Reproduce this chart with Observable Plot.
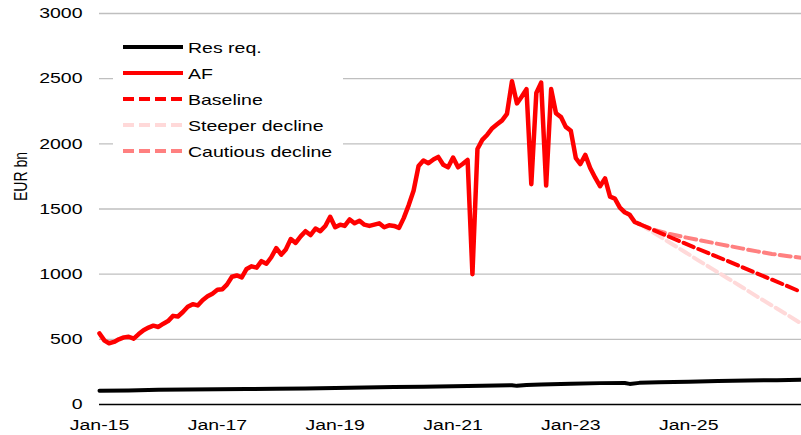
<!DOCTYPE html>
<html>
<head>
<meta charset="utf-8">
<script src="https://cdn.jsdelivr.net/npm/d3@7"></script>
<script src="https://cdn.jsdelivr.net/npm/@observablehq/plot@0.6"></script>
<style>
  html, body { margin: 0; padding: 0; background: #fff; }
  #wrap { position: relative; width: 801px; height: 435px; font-family: "Liberation Sans", Arial, sans-serif; }
  #legend { position: absolute; left: 113px; top: 30px; width: 230px; height: 135px; background: #fff; padding-top: 4px; box-sizing: border-box; }
  .item { height: 26px; display: flex; align-items: center; }
  .item svg { margin-left: 10px; flex: none; }
  .item span { margin-left: 5px; font-size: 15px; color: #000; display: inline-block; transform: scaleX(1.3); transform-origin: left center; white-space: nowrap; }
</style>
</head>
<body>
<div id="wrap"></div>
<script>
// ---- data ----
const afStart = "2015-01";
const afValues = [545,490,470,480,500,515,520,505,540,570,
  590,605,595,620,640,680,675,710,750,770,
  760,800,830,850,880,885,920,980,990,975,
  1040,1060,1050,1100,1080,1130,1200,1150,1190,1270,
  1240,1290,1330,1300,1350,1330,1370,1440,1360,1380,
  1370,1420,1390,1410,1380,1370,1380,1390,1360,1375,
  1370,1355,1430,1530,1640,1830,1872,1851,1880,1900,
  1840,1820,1895,1820,1845,1877,1000,1960,2030,2070,
  2120,2150,2180,2230,2480,2310,2360,2420,1690,2390,
  2470,1680,2420,2235,2205,2130,2100,1890,1845,1915,
  1815,1740,1675,1735,1595,1580,1510,1475,1455,1400,1385];

const resDates = ["2015-01","2015-07","2016-01","2016-07","2017-01","2017-07","2018-01","2018-07","2019-01","2019-07","2020-01","2020-07","2021-01","2021-07","2022-01","2022-02","2022-04","2022-07","2023-01","2023-07","2023-12","2024-01","2024-03","2024-07","2025-01","2025-07","2026-01","2026-07","2026-12"];
const resValues = [105,107,113,115,117,119,121,123,127,130,134,136,140,143,148,143,150,154,160,164,165,158,166,170,175,180,184,187,190];

const projDates = ["2024-03","2024-06","2024-09","2024-12","2025-03","2025-06","2025-09","2025-12","2026-03","2026-06","2026-09","2026-12"];
const baseline = [1385,1336,1287,1240,1193,1146,1100,1052,1005,958,910,862];
const steeper  = [1385,1315,1245,1176,1106,1037,967,898,828,759,690,620];
const cautious = [1385,1340,1310,1285,1262,1240,1218,1196,1175,1155,1140,1125];

const xTicks = ["2015-01","2017-01","2019-01","2021-01","2023-01","2025-01"];
const yTicks = [0,500,1000,1500,2000,2500,3000];
const yLabel = "EUR bn";

const series = [
  {name: "Res req.", color: "#000000", dash: null, width: 4},
  {name: "AF", color: "#ff0000", dash: null, width: 4.5},
  {name: "Baseline", color: "#ff0000", dash: "11,5", width: 4},
  {name: "Steeper decline", color: "#ffd9d9", dash: "11,5", width: 4},
  {name: "Cautious decline", color: "#ff8080", dash: "11,5", width: 4}
];

// ---- build tables ----
const parse = d3.utcParse("%Y-%m");
const start = parse(afStart);
const af = afValues.map((v, i) => ({date: d3.utcMonth.offset(start, i), value: v}));
const res = resDates.map((d, i) => ({date: parse(d), value: resValues[i]}));
const mk = (arr) => projDates.map((d, i) => ({date: parse(d), value: arr[i]}));
const base = mk(baseline), steep = mk(steeper), caut = mk(cautious);

const fmt = d3.utcFormat("%b-%y");
const font = '"Liberation Sans", Arial, sans-serif';

const plot = Plot.plot({
  width: 801,
  height: 435,
  marginLeft: 99,
  marginRight: 0,
  marginTop: 13,
  marginBottom: 31,
  style: {fontFamily: font, fontSize: "15px", color: "#000", background: "#fff", overflow: "visible"},
  x: {type: "utc", domain: [parse("2015-01"), parse("2026-12")]},
  y: {domain: [0, 3000]},
  marks: [
    Plot.gridY(yTicks.filter(d => d > 0), {stroke: "#bfbfbf", strokeOpacity: 1, strokeWidth: 1.4}),
    Plot.ruleY([0], {stroke: "#000", strokeWidth: 1.6}),
    Plot.axisY(yTicks, {tickSize: 0, tickPadding: 17, label: null, fontSize: 15, tickFormat: d => String(d)}),
    Plot.axisX(xTicks.map(parse), {tickSize: 0, tickPadding: 15, tickFormat: fmt, label: null, fontSize: 15}),
    Plot.text([yLabel], {frameAnchor: "left", rotate: -90, dx: -78, dy: -8, fontSize: 14, fill: "#000"}),
    Plot.line(res, {x: "date", y: "value", stroke: series[0].color, strokeWidth: series[0].width}),
    Plot.line(steep, {x: "date", y: "value", stroke: series[3].color, strokeWidth: series[3].width, strokeDasharray: series[3].dash}),
    Plot.line(caut, {x: "date", y: "value", stroke: series[4].color, strokeWidth: series[4].width, strokeDasharray: series[4].dash}),
    Plot.line(base, {x: "date", y: "value", stroke: series[2].color, strokeWidth: series[2].width, strokeDasharray: series[2].dash}),
    Plot.line(af, {x: "date", y: "value", stroke: series[1].color, strokeWidth: series[1].width, strokeLinejoin: "round"})
  ]
});

// stretch text horizontally like the reference
plot.querySelectorAll('g[aria-label="x-axis tick label"] text, g[aria-label="y-axis tick label"] text').forEach(t => {
  const tr = t.getAttribute("transform") || "";
  t.setAttribute("transform", tr + " scale(1.3,1)");
});
plot.querySelectorAll('g[aria-label="text"] text').forEach(t => {
  const tr = t.getAttribute("transform") || "";
  t.setAttribute("transform", tr.replace("rotate(", "scale(1.3,1) rotate("));
});

const wrap = document.getElementById("wrap");
wrap.appendChild(plot);

const legend = document.createElement("div");
legend.id = "legend";
for (const s of series) {
  const item = document.createElement("div");
  item.className = "item";
  const dash = s.dash ? ` stroke-dasharray="${s.dash}"` : "";
  item.innerHTML = `<svg width="60" height="10"><line x1="0" x2="60" y1="5" y2="5" stroke="${s.color}" stroke-width="4"${dash}/></svg><span>${s.name}</span>`;
  legend.appendChild(item);
}
wrap.appendChild(legend);
</script>
</body>
</html>
